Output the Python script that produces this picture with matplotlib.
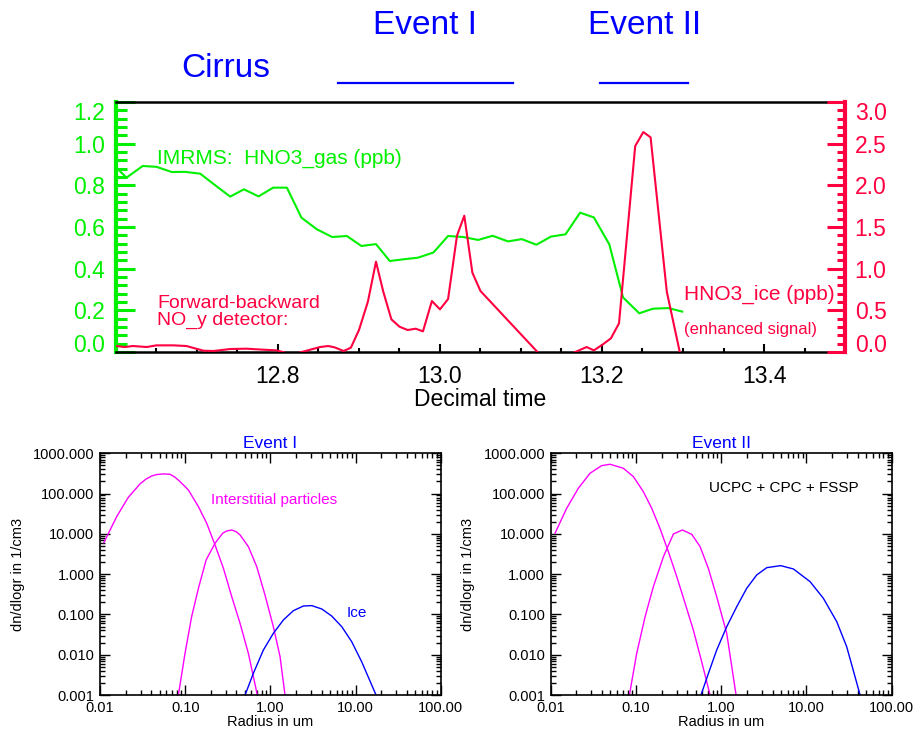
import numpy as np
import matplotlib
matplotlib.use('Agg')
import matplotlib.pyplot as plt
from matplotlib.ticker import MultipleLocator, LogLocator, NullFormatter, FuncFormatter
from matplotlib.transforms import blended_transform_factory

plt.rcParams['font.family'] = ['Liberation Sans', 'DejaVu Sans']

GREEN = '#00f000'
RED = '#ff0040'
BLUE = '#0000ff'
MAGENTA = '#ff00ff'

# ---- top panel: time series ----
gas_time = [12.600, 12.613, 12.633, 12.650, 12.669, 12.685, 12.704, 12.722, 12.741,
            12.758, 12.776, 12.794, 12.811, 12.829, 12.848, 12.867, 12.885, 12.903,
            12.921, 12.938, 12.957, 12.973, 12.992, 13.010, 13.029, 13.047, 13.065,
            13.084, 13.101, 13.119, 13.137, 13.155, 13.173, 13.190, 13.209, 13.226,
            13.246, 13.263, 13.282, 13.299]
hno3_gas = [0.887, 0.837, 0.893, 0.889, 0.864, 0.865, 0.856, 0.802, 0.746,
            0.781, 0.747, 0.789, 0.789, 0.645, 0.589, 0.552, 0.557, 0.509,
            0.518, 0.437, 0.446, 0.453, 0.478, 0.557, 0.552, 0.538, 0.558,
            0.531, 0.542, 0.515, 0.554, 0.565, 0.669, 0.646, 0.517, 0.262,
            0.186, 0.208, 0.211, 0.194]

ice_time = [12.600, 12.611, 12.621, 12.638, 12.650, 12.671, 12.687, 12.708, 12.720,
            12.741, 12.761, 12.782, 12.798, 12.818, 12.852, 12.862, 12.870, 12.881,
            12.890, 12.900, 12.911, 12.921, 12.930, 12.940, 12.950, 12.960, 12.970,
            12.979, 12.990, 13.000, 13.010, 13.021, 13.030, 13.040, 13.050, 13.130,
            13.160, 13.181, 13.190, 13.200, 13.211, 13.221, 13.241, 13.251, 13.260,
            13.280, 13.296]
hno3_ice = [0.072, 0.060, 0.072, 0.060, 0.080, 0.080, 0.072, 0.016, 0.012,
            0.036, 0.040, 0.028, 0.020, -0.030, 0.060, 0.072, 0.056, 0.012,
            0.052, 0.264, 0.604, 1.084, 0.724, 0.392, 0.304, 0.264, 0.280,
            0.248, 0.612, 0.512, 0.636, 1.396, 1.636, 0.952, 0.732, -0.100,
            -0.030, 0.060, 0.020, 0.084, 0.164, 0.344, 2.472, 2.640, 2.576,
            0.724, 0.000]

event_names = ['Event I', 'Event II']
event_spans = [(12.874, 13.090), (13.198, 13.306)]

# ---- bottom panels: size distributions (radius in um, dn/dlogr in 1/cm3) ----
r1_int_a = [0.0111, 0.0157, 0.0215, 0.0295, 0.0344, 0.0405, 0.0462, 0.0555, 0.0664,
            0.076, 0.0869, 0.109, 0.143, 0.179, 0.224, 0.281, 0.352, 0.441, 0.552, 0.703]
n1_int_a = [6.1, 26.9, 81, 174, 227, 275, 297, 308, 302,
            255, 199, 123, 47.5, 18.3, 5.31, 1.40, 0.277, 0.060, 0.0108, 0.0010]
r1_int_b = [0.0832, 0.0995, 0.119, 0.143, 0.176, 0.224, 0.275, 0.307, 0.352, 0.395,
            0.441, 0.552, 0.692, 0.865, 1.084, 1.30, 1.486]
n1_int_b = [0.001, 0.0108, 0.088, 0.446, 2.25, 5.85, 10.35, 11.8, 12.5, 11.4,
            9.42, 4.83, 1.54, 0.304, 0.0498, 0.00895, 0.001]
r1_ice = [0.505, 0.631, 0.828, 1.084, 1.422, 1.862, 2.438, 3.055, 4.009,
          5.248, 6.887, 9.016, 11.80, 17.42]
n1_ice = [0.001, 0.00345, 0.0131, 0.0340, 0.0730, 0.124, 0.162, 0.166, 0.137,
          0.0916, 0.0498, 0.0211, 0.00673, 0.001]

r2_int_a = [0.01125, 0.0154, 0.0211, 0.0289, 0.0396, 0.0497, 0.0711, 0.0933, 0.122,
            0.153, 0.191, 0.240, 0.301, 0.377, 0.471, 0.590, 0.740]
n2_int_a = [10.4, 43.3, 135.5, 320, 495, 535, 426, 264, 112,
            43.3, 13.8, 3.63, 0.869, 0.189, 0.0411, 0.00673, 0.001]
r2_int_b = [0.0838, 0.102, 0.128, 0.160, 0.210, 0.275, 0.350, 0.451, 0.565,
            0.706, 0.885, 1.161, 1.493]
n2_int_b = [0.001, 0.0108, 0.0881, 0.490, 2.72, 9.95, 12.5, 9.77, 4.83,
            1.40, 0.277, 0.034, 0.001]
r2_ice = [0.579, 0.708, 0.885, 1.161, 1.521, 1.991, 2.606, 3.420, 4.989,
          7.031, 11.02, 15.78, 22.65, 29.65, 42.56]
n2_ice = [0.001, 0.00345, 0.0131, 0.0498, 0.156, 0.446, 0.955, 1.452, 1.63,
          1.346, 0.653, 0.252, 0.0662, 0.0158, 0.001]

fig = plt.figure(figsize=(9.16, 7.32), dpi=100)

# ===== top panel =====
ax = fig.add_axes([0.1266, 0.5191, 0.7959, 0.3415])
ax2 = ax.twinx()

ax.plot(gas_time, hno3_gas, color=GREEN, lw=1.5, zorder=3)
ax2.plot(ice_time, hno3_ice, color=RED, lw=1.5)

ax.set_xlim(12.6, 13.5)
ax.set_ylim(0, 1.2)
ax2.set_ylim(0, 3.0)

ax.set_xticks([12.8, 13.0, 13.2, 13.4])
ax.xaxis.set_minor_locator(MultipleLocator(0.05))
ax.set_yticks(np.arange(0, 1.21, 0.2))
ax.yaxis.set_major_formatter(FuncFormatter(lambda v, p: f'{v:.1f}'))
ax.yaxis.set_minor_locator(MultipleLocator(0.04))
ax2.set_yticks(np.arange(0, 3.01, 0.5))
ax2.yaxis.set_major_formatter(FuncFormatter(lambda v, p: f'{v:.1f}'))
ax2.yaxis.set_minor_locator(MultipleLocator(0.1))

ax.tick_params(axis='x', which='major', direction='in', length=6, width=1.5,
               labelsize=16.5, pad=9, top=False)
ax.tick_params(axis='x', which='minor', direction='in', length=3, width=1.5, top=False)
ax.tick_params(axis='y', which='major', direction='in', length=14, width=2.2,
               color=GREEN, labelcolor=GREEN, labelsize=16.5, pad=8)
ax.tick_params(axis='y', which='minor', direction='in', length=8, width=2.2, color=GREEN)
ax2.tick_params(axis='y', which='major', direction='in', length=13, width=2.2,
                color=RED, labelcolor=RED, labelsize=16.5, pad=7)
ax2.tick_params(axis='y', which='minor', direction='in', length=6, width=2.2, color=RED)

for s in ['top', 'bottom']:
    ax.spines[s].set_linewidth(1.8)
    ax.spines[s].set_color('black')
    ax2.spines[s].set_visible(False)
ax.spines['left'].set_color(GREEN)
ax.spines['left'].set_linewidth(3)
ax.spines['right'].set_visible(False)
ax2.spines['left'].set_visible(False)
ax2.spines['right'].set_color(RED)
ax2.spines['right'].set_linewidth(3)

ax.set_xlabel('Decimal time', fontsize=16.5, labelpad=0)

lt = ax.yaxis.get_major_ticks()
lt[0].label1.set_va('baseline')
lt[-1].label1.set_va('top')
rt = ax2.yaxis.get_major_ticks()
rt[0].label2.set_va('baseline')
rt[-1].label2.set_va('top')

ax.text(12.651, 0.931, 'IMRMS:  HNO3_gas (ppb)', color=GREEN, fontsize=15, va='center')
ax.text(12.651, 0.233, 'Forward-backward', color=RED, fontsize=14, va='center')
ax.text(12.651, 0.151, 'NO_y detector:', color=RED, fontsize=14, va='center')
ax.text(13.301, 0.275, 'HNO3_ice (ppb)', color=RED, fontsize=15, va='center')
ax.text(13.301, 0.106, '(enhanced signal)', color=RED, fontsize=12, va='center')

trans = blended_transform_factory(ax.transData, fig.transFigure)
for name, (t0, t1) in zip(event_names, event_spans):
    ax.plot([t0, t1], [0.8866, 0.8866], color=BLUE, lw=1.6, transform=trans, clip_on=False)
    ax.text((t0 + t1) / 2, 0.9658, name, color=BLUE, fontsize=24, ha='center',
            va='center', transform=trans)
ax.text(12.736, 0.9071, 'Cirrus', color=BLUE, fontsize=24, ha='center', va='center',
        transform=trans)


# ===== bottom panels =====
def dist_panel(rect, title, curves):
    a = fig.add_axes(rect)
    for r, n, c in curves:
        a.plot(r, n, color=c, lw=1)
    a.set_xscale('log')
    a.set_yscale('log')
    a.set_xlim(0.01, 100)
    a.set_ylim(0.001, 1000)
    a.set_xticks([0.01, 0.1, 1, 10, 100])
    a.set_yticks([0.001, 0.01, 0.1, 1, 10, 100, 1000])
    a.xaxis.set_major_formatter(FuncFormatter(lambda v, p: f'{v:.2f}'))
    a.yaxis.set_major_formatter(FuncFormatter(lambda v, p: f'{v:.3f}'))
    for axis in (a.xaxis, a.yaxis):
        axis.set_minor_locator(LogLocator(base=10, subs=np.arange(2, 10), numticks=100))
        axis.set_minor_formatter(NullFormatter())
    a.tick_params(which='both', direction='in', top=True, right=True, width=1)
    a.tick_params(which='major', length=7, labelsize=10.5, pad=4)
    a.tick_params(which='minor', length=3.5)
    for s in a.spines.values():
        s.set_linewidth(1.2)
    a.set_title(title, color=BLUE, fontsize=12.5, pad=4)
    a.set_xlabel('Radius in um', fontsize=10.5, labelpad=0)
    a.set_ylabel('dn/dlogr in 1/cm3', fontsize=10.5, labelpad=6)
    return a


b1 = dist_panel([0.1092, 0.0505, 0.3719, 0.3302], 'Event I',
                [(r1_int_a, n1_int_a, MAGENTA), (r1_int_b, n1_int_b, MAGENTA),
                 (r1_ice, n1_ice, BLUE)])
b1.text(0.326, 0.807, 'Interstitial particles', color=MAGENTA, fontsize=11,
        transform=b1.transAxes, va='center')
b1.text(0.725, 0.339, 'Ice', color=BLUE, fontsize=11, transform=b1.transAxes, va='center')

b2 = dist_panel([0.6012, 0.0505, 0.3723, 0.3302], 'Event II',
                [(r2_int_a, n2_int_a, MAGENTA), (r2_int_b, n2_int_b, MAGENTA),
                 (r2_ice, n2_ice, BLUE)])
b2.text(0.464, 0.856, 'UCPC + CPC + FSSP', color='black', fontsize=11,
        transform=b2.transAxes, va='center')

fig.savefig('out.png', dpi=100)
